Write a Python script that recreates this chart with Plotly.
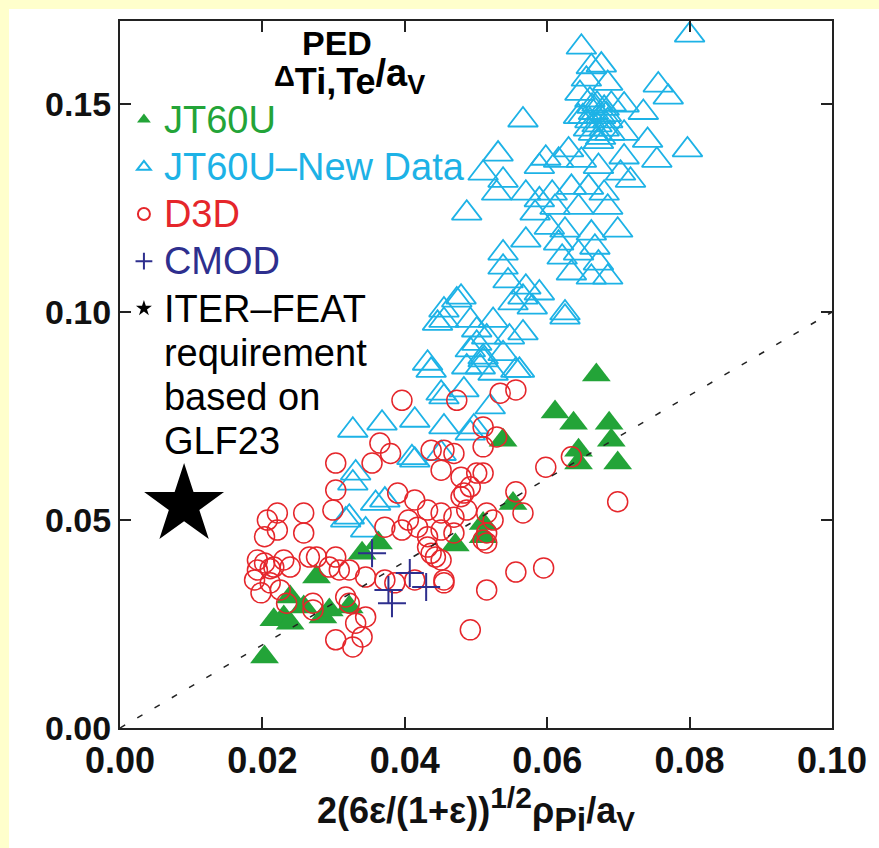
import plotly.graph_objects as go

# ---------------- data ----------------
jt60u_new_x = [0.0800, 0.0648, 0.0662, 0.0676, 0.0655, 0.0685, 0.0756, 0.0770, 0.0646, 0.0735, 0.0708, 0.0566,
               0.0660, 0.0670, 0.0680, 0.0665, 0.0675, 0.0685, 0.0660, 0.0670, 0.0680, 0.0665, 0.0675, 0.0688,
               0.0658, 0.0672, 0.0683, 0.0663, 0.0690, 0.0650,
               0.0644, 0.0708, 0.0741, 0.0797, 0.0754, 0.0708, 0.0531, 0.0510, 0.0538, 0.0529, 0.0598, 0.0589,
               0.0616, 0.0630, 0.0648, 0.0672, 0.0703, 0.0717, 0.0570, 0.0589, 0.0607, 0.0634, 0.0658, 0.0680,
               0.0487, 0.0583, 0.0611, 0.0644, 0.0685, 0.0603, 0.0625, 0.0662, 0.0699, 0.0616, 0.0570, 0.0538,
               0.0621, 0.0644, 0.0667, 0.0672, 0.0634, 0.0662, 0.0685, 0.0538, 0.0545, 0.0570, 0.0566, 0.0589,
               0.0552, 0.0625, 0.0579, 0.0473, 0.0455, 0.0492, 0.0501, 0.0524, 0.0501, 0.0515, 0.0547, 0.0566,
               0.0492, 0.0510, 0.0538, 0.0432, 0.0506, 0.0556, 0.0524, 0.0455, 0.0479, 0.0437, 0.0451, 0.0327,
               0.0368, 0.0414, 0.0455, 0.0414, 0.0492, 0.0410, 0.0331, 0.0327, 0.0359, 0.0372, 0.0317, 0.0345,
               0.0322, 0.0451, 0.0446, 0.0625, 0.0487, 0.0510, 0.0561, 0.0455, 0.0483, 0.0520, 0.0497]
jt60u_new_y = [0.1666, 0.1637, 0.1590, 0.1594, 0.1560, 0.1550, 0.1546, 0.1517, 0.1526, 0.1480, 0.1498, 0.1462,
               0.1510, 0.1500, 0.1490, 0.1480, 0.1470, 0.1460, 0.1460, 0.1450, 0.1440, 0.1430, 0.1420, 0.1430,
               0.1440, 0.1410, 0.1475, 0.1495, 0.1500, 0.1470,
               0.1470, 0.1430, 0.1413, 0.1390, 0.1365, 0.1373, 0.1380, 0.1334, 0.1317, 0.1286, 0.1370, 0.1350,
               0.1365, 0.1390, 0.1365, 0.1350, 0.1334, 0.1317, 0.1286, 0.1270, 0.1286, 0.1300, 0.1300, 0.1286,
               0.1238, 0.1238, 0.1252, 0.1252, 0.1252, 0.1204, 0.1197, 0.1190, 0.1197, 0.1166, 0.1173, 0.1142,
               0.1132, 0.1142, 0.1156, 0.1118, 0.1094, 0.1084, 0.1084, 0.1108, 0.1075, 0.1060, 0.1036, 0.1046,
               0.1022, 0.0998, 0.1012, 0.1029, 0.0980, 0.0980, 0.0957, 0.0980, 0.0925, 0.0940, 0.0940, 0.0950,
               0.0909, 0.0892, 0.0900, 0.0877, 0.0868, 0.0860, 0.0853, 0.1005, 0.1036, 0.0860, 0.0805, 0.0716,
               0.0733, 0.0740, 0.0724, 0.0644, 0.0709, 0.0650, 0.0613, 0.0589, 0.0540, 0.0548, 0.0500, 0.0476,
               0.0507, 0.0660, 0.0973, 0.0988, 0.0868, 0.0885, 0.0860, 0.0796, 0.0813, 0.0772, 0.0724]

jt60u_x = [0.0669, 0.0611, 0.0637, 0.0687, 0.0690, 0.0644, 0.0644, 0.0699, 0.0538, 0.0552, 0.0510, 0.0510,
           0.0471, 0.0203, 0.0230, 0.0216, 0.0239, 0.0258, 0.0276, 0.0285, 0.0294, 0.0322, 0.0340, 0.0363,
           0.0239]
jt60u_y = [0.0849, 0.0760, 0.0733, 0.0733, 0.0692, 0.0668, 0.0637, 0.0637, 0.0692, 0.0540, 0.0492, 0.0460,
           0.0440, 0.0171, 0.0267, 0.0260, 0.0252, 0.0291, 0.0363, 0.0267, 0.0284, 0.0291, 0.0420, 0.0445,
           0.0315]

d3d_x = [0.0303, 0.0354, 0.0451, 0.0479, 0.0492, 0.0501, 0.0303, 0.0221, 0.0207, 0.0258, 0.0299, 0.0258,
         0.0221, 0.0203, 0.0390, 0.0414, 0.0432, 0.0451, 0.0469, 0.0483, 0.0487, 0.0405, 0.0372, 0.0396,
         0.0418, 0.0432, 0.0451, 0.0469, 0.0432, 0.0437, 0.0451, 0.0193, 0.0203, 0.0216, 0.0193, 0.0211,
         0.0230, 0.0239, 0.0189, 0.0211, 0.0198, 0.0225, 0.0234, 0.0266, 0.0276, 0.0303, 0.0294, 0.0308,
         0.0322, 0.0345, 0.0271, 0.0271, 0.0317, 0.0322, 0.0345, 0.0331, 0.0340, 0.0303, 0.0327, 0.0372,
         0.0386, 0.0414, 0.0455, 0.0492, 0.0515, 0.0515, 0.0510, 0.0396, 0.0473, 0.0534, 0.0556, 0.0510,
         0.0529, 0.0510, 0.0437, 0.0455, 0.0469, 0.0598, 0.0634, 0.0510, 0.0479, 0.0556, 0.0566, 0.0524,
         0.0515, 0.0515, 0.0443, 0.0699, 0.0556, 0.0595, 0.0455, 0.0365, 0.0380]
d3d_y = [0.0637, 0.0637, 0.0620, 0.0603, 0.0580, 0.0613, 0.0572, 0.0517, 0.0500, 0.0517, 0.0524, 0.0469,
         0.0476, 0.0460, 0.0565, 0.0548, 0.0524, 0.0517, 0.0507, 0.0565, 0.0524, 0.0500, 0.0483, 0.0476,
         0.0483, 0.0460, 0.0476, 0.0469, 0.0435, 0.0420, 0.0404, 0.0404, 0.0397, 0.0387, 0.0380, 0.0383,
         0.0404, 0.0387, 0.0356, 0.0349, 0.0325, 0.0332, 0.0300, 0.0411, 0.0411, 0.0411, 0.0387, 0.0380,
         0.0380, 0.0363, 0.0300, 0.0284, 0.0315, 0.0300, 0.0267, 0.0252, 0.0219, 0.0212, 0.0195, 0.0356,
         0.0349, 0.0356, 0.0356, 0.0236, 0.0332, 0.0517, 0.0452, 0.0788, 0.0788, 0.0805, 0.0813, 0.0724,
         0.0700, 0.0676, 0.0668, 0.0668, 0.0660, 0.0627, 0.0652, 0.0613, 0.0556, 0.0568, 0.0517, 0.0500,
         0.0469, 0.0445, 0.0411, 0.0544, 0.0375, 0.0385, 0.0349, 0.0685, 0.0660]

cmod_x = [0.0354, 0.0377, 0.0382, 0.0407, 0.0430]
cmod_y = [0.0420, 0.0332, 0.0300, 0.0373, 0.0339]

iter_x = [0.0090]
iter_y = [0.0536]

unity_x = [0.0, 0.1]
unity_y = [0.0, 0.1]

x_ticks = [0.00, 0.02, 0.04, 0.06, 0.08, 0.10]
y_ticks = [0.00, 0.05, 0.10, 0.15]

# ---------------- style ----------------
GREEN = "#23A438"
CYAN = "#1DB2E6"
RED = "#E5262B"
NAVY = "#2E2F8E"
FONT = "Liberation Sans"
LEG_TXT = 38


def leg(text, color=None):
    style = f"font-size:{LEG_TXT}px"
    if color:
        style += f";color:{color}"
    return "<br>".join(f'<span style="{style}">{t}</span>' for t in text.split("\n"))


fig = go.Figure()

fig.add_trace(go.Scatter(
    x=jt60u_new_x, y=jt60u_new_y, mode="markers", legendrank=2,
    name=leg("JT60U\u2013New Data", CYAN),
    marker=dict(symbol="triangle-up-open", size=26, color=CYAN, line=dict(width=1.8, color=CYAN))))
fig.add_trace(go.Scatter(
    x=jt60u_x, y=jt60u_y, mode="markers", legendrank=1,
    name=leg("JT60U", GREEN),
    marker=dict(symbol="triangle-up", size=25, color=GREEN, line=dict(width=0))))
fig.add_trace(go.Scatter(
    x=d3d_x, y=d3d_y, mode="markers", legendrank=3,
    name=leg("D3D", RED),
    marker=dict(symbol="circle-open", size=20, color=RED, line=dict(width=1.5, color=RED))))
fig.add_trace(go.Scatter(
    x=cmod_x, y=cmod_y, mode="markers", legendrank=4,
    name=leg("CMOD", NAVY),
    marker=dict(symbol="cross-thin-open", size=20, color=NAVY, line=dict(width=2, color=NAVY))))
fig.add_trace(go.Scatter(
    x=iter_x, y=iter_y, mode="markers", legendrank=5,
    name=leg("ITER\u2013FEAT\nrequirement\nbased on\nGLF23"),
    marker=dict(symbol="star", size=60, color="black", line=dict(width=0))))
fig.add_trace(go.Scatter(
    x=unity_x, y=unity_y, mode="lines", showlegend=False, hoverinfo="skip",
    line=dict(color="#222222", width=1.5, dash="6px,14px")))

# layout geometry (pixels)
W, H = 879, 848
L, R, T, B = 120, 34, 21, 120
pw, ph = W - L - R, H - T - B


def px_x(px):
    return (px - L) / pw


def px_y(py):
    return (H - B - py) / ph


fig.update_layout(
    width=W, height=H,
    margin=dict(l=L, r=R, t=T, b=B),
    paper_bgcolor="#FFFFCC",
    plot_bgcolor="white",
    font=dict(family=FONT, color="black"),
    showlegend=True,
    legend=dict(
        x=px_x(124), y=px_y(91), xanchor="left", yanchor="top",
        bgcolor="rgba(0,0,0,0)", borderwidth=0,
        font=dict(family=FONT, size=34, color="black"),
        itemsizing="constant", valign="top", tracegroupgap=0,
        traceorder="normal"),
    shapes=[dict(type="rect", xref="paper", yref="paper",
                 x0=px_x(7), x1=px_x(W + 20), y0=px_y(H + 20), y1=px_y(9),
                 fillcolor="white", line=dict(width=0), layer="below")],
    annotations=[
        dict(text="<b>PED</b>", xref="paper", yref="paper",
             x=px_x(341), y=px_y(43), xanchor="center", yanchor="middle",
             showarrow=False, font=dict(family=FONT, size=34, color="black")),
        dict(text='<b><span style="font-size:29px">\u0394</span>'
                  '<sub><span style="font-size:36px">Ti,Te</span></sub>'
                  '/a<sub><span style="font-size:27px">V</span></sub></b>',
             xref="paper", yref="paper",
             x=px_x(354), y=px_y(77), xanchor="center", yanchor="middle",
             showarrow=False, font=dict(family=FONT, size=38, color="black")),
    ],
)

fig.update_xaxes(
    range=[0, 0.1], tickvals=x_ticks, tickformat=".2f",
    showgrid=False, zeroline=False,
    showline=True, linecolor="#222222", linewidth=2, mirror="ticks",
    ticks="inside", ticklen=11, tickwidth=1.5, tickcolor="#222222",
    ticklabeloverflow="allow",
    tickfont=dict(family=FONT, size=36, color="#111111", weight="bold"),
    title=dict(text='<b>2(6\u03b5/(1+\u03b5))<sup><span style="font-size:30px">1/2</span></sup>'
                    '\u03c1<sub><span style="font-size:34px">Pi</span></sub>'
                    '/a<sub><span style="font-size:28px">V</span></sub></b>',
               font=dict(family=FONT, size=36, color="#111111"), standoff=15),
)
fig.update_yaxes(
    range=[0, 0.17], tickvals=y_ticks, tickformat=".2f",
    showgrid=False, zeroline=False,
    showline=True, linecolor="#222222", linewidth=2, mirror="ticks",
    ticks="inside", ticklen=11, tickwidth=1.5, tickcolor="#222222",
    tickfont=dict(family=FONT, size=34, color="#111111", weight="bold"),
)

fig.write_html("out.html")
